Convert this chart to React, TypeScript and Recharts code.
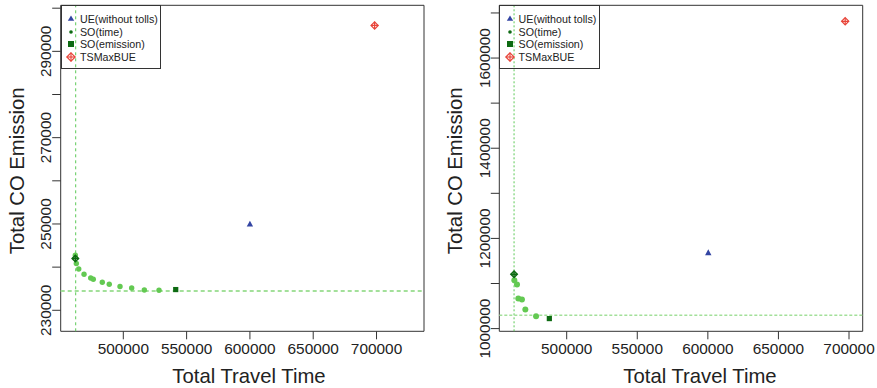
import { ReferenceArea, ReferenceLine, Scatter, ScatterChart, XAxis, YAxis } from "recharts";

const seriesNames = ["UE(without tolls)", "SO(time)", "SO(emission)", "TSMaxBUE"];
const travelTimeTicks = [500000, 550000, 600000, 650000, 700000];

// left panel
const leftCOTicks = [230000, 240000, 250000, 260000, 270000, 280000, 290000, 300000];
const leftCOLabels = [230000, 250000, 270000, 290000];
const leftParetoTime = [462100, 462900, 464800, 469000, 474250, 476300, 483400, 488900, 497400, 506600, 516600, 528200];
const leftParetoCO = [242760, 240840, 239580, 238350, 237490, 237190, 236500, 236030, 235500, 235170, 234710, 234640];
// UE, SO(time), SO(emission), TSMaxBUE
const leftPointTime = [600000, 462100, 541400, 698500];
const leftPointCO = [250000, 242000, 234800, 296000];
const leftRefTime = 462400;
const leftRefCO = 234480;

// right panel
const rightCOTicks = [1000000, 1100000, 1200000, 1300000, 1400000, 1500000, 1600000, 1700000];
const rightCOLabels = [1000000, 1200000, 1400000, 1600000];
const rightParetoTime = [462900, 464800, 465700, 468300, 470700, 478300];
const rightParetoCO = [1107200, 1097700, 1066600, 1064400, 1042200, 1027300];
const rightPointTime = [600300, 462700, 487700, 697300];
const rightPointCO = [1168700, 1120500, 1022200, 1681500];
const rightRefTime = 462700;
const rightRefCO = 1029500;

const FONT = '"Liberation Sans", Arial, Helvetica, sans-serif';
const TEXT = "#222";
const BOX = "#333";

const GREEN = "#63c952";
const DARK_GREEN = "#0d6a12";
const BLUE = "#3345a3";
const RED = "#e8453a";

const GreenDot = (r: number) => (props: any) => <circle cx={props.cx} cy={props.cy} r={r} fill={GREEN} />;

const Triangle = (props: any) => {
  const { cx, cy } = props;
  return <polygon points={`${cx},${cy - 3.2} ${cx - 3.2},${cy + 2.6} ${cx + 3.2},${cy + 2.6}`} fill={BLUE} />;
};

const Square = (props: any) => {
  const { cx, cy } = props;
  return <rect x={cx - 2.6} y={cy - 2.6} width={5.2} height={5.2} fill={DARK_GREEN} />;
};

const DiamondPlus = (color: string, r: number, w: number) => (props: any) => {
  const { cx, cy } = props;
  return (
    <g stroke={color} strokeWidth={w} fill="none">
      <polygon points={`${cx},${cy - r} ${cx + r},${cy} ${cx},${cy + r} ${cx - r},${cy}`} />
      <line x1={cx - r} y1={cy} x2={cx + r} y2={cy} />
      <line x1={cx} y1={cy - r} x2={cx} y2={cy + r} />
    </g>
  );
};

const XTick = (props: any) => {
  const { x, y, payload } = props;
  return (
    <text x={x} y={y + 13} textAnchor="middle" fontSize={15.4} fill={TEXT} fontFamily={FONT}>
      {payload.value}
    </text>
  );
};

const YTick = (labels: number[]) => (props: any) => {
  const { x, y, payload } = props;
  if (!labels.includes(payload.value)) return <g />;
  const bx = x + 1;
  return (
    <text x={bx} y={y} transform={`rotate(-90 ${bx} ${y})`} textAnchor="middle" fontSize={15.4} fill={TEXT} fontFamily={FONT}>
      {payload.value}
    </text>
  );
};

const Title = (p: any) => (
  <text
    x={p.tx}
    y={p.ty}
    transform={p.rot ? `rotate(-90 ${p.tx} ${p.ty})` : undefined}
    textAnchor="middle"
    fontSize={20.3}
    fill={TEXT}
    fontFamily={FONT}
  >
    {p.txt}
  </text>
);

const legendMarks = [
  <polygon points="5,1.5 1.8,6.8 8.2,6.8" fill={BLUE} />,
  <circle cx={5} cy={5} r={1.8} fill={DARK_GREEN} />,
  <rect x={2} y={2} width={6} height={6} fill={DARK_GREEN} />,
  <g stroke={RED} strokeWidth={1.2} fill="none">
    <polygon points="5,0.8 9.2,5 5,9.2 0.8,5" />
    <line x1={0.8} y1={5} x2={9.2} y2={5} />
    <line x1={5} y1={0.8} x2={5} y2={9.2} />
  </g>,
];

const rowCenters = [12.4, 25.7, 38, 50.7];

function LegendBox({ left }: { left: number }) {
  return (
    <div
      style={{
        position: "absolute",
        left,
        top: 5.3,
        width: 100.5,
        height: 63.5,
        border: `1px solid ${BOX}`,
        boxSizing: "border-box",
        fontFamily: FONT,
        fontSize: 10.7,
        color: TEXT,
        pointerEvents: "none",
      }}
    >
      {seriesNames.map((name, i) => (
        <div key={name} style={{ position: "absolute", left: 0, top: rowCenters[i] - 6, height: 12, width: 100 }}>
          <svg width={10} height={10} style={{ position: "absolute", left: 4.3, top: 1 }}>
            {legendMarks[i]}
          </svg>
          <span style={{ position: "absolute", left: 18.3, top: 0, lineHeight: "12px", whiteSpace: "nowrap" }}>{name}</span>
        </div>
      ))}
    </div>
  );
}

type PanelProps = {
  width: number;
  yAxisWidth: number;
  right: number;
  xDomain: [number, number];
  yDomain: [number, number];
  yTicks: number[];
  yLabels: number[];
  paretoTime: number[];
  paretoCO: number[];
  pointTime: number[];
  pointCO: number[];
  refTime: number;
  refCO: number;
  xTitleX: number;
  yTitleX: number;
  dotR: number;
  dotted: boolean;
};

function Panel(p: PanelProps) {
  const pareto = p.paretoTime.map((t, i) => ({ x: t, y: p.paretoCO[i] }));
  const pt = (i: number) => [{ x: p.pointTime[i], y: p.pointCO[i] }];
  return (
    <ScatterChart width={p.width} height={388} margin={{ top: 5.3, right: p.right, bottom: 0, left: 0 }}>
      <XAxis
        type="number"
        dataKey="x"
        domain={p.xDomain}
        allowDataOverflow
        ticks={travelTimeTicks}
        interval={0}
        tickSize={8}
        axisLine={false}
        stroke={BOX}
        tick={(t: any) => <XTick {...t} />}
        height={56.7}
        label={<Title tx={p.xTitleX} ty={383.3} txt="Total Travel Time" />}
      />
      <YAxis
        type="number"
        dataKey="y"
        domain={p.yDomain}
        allowDataOverflow
        ticks={p.yTicks}
        interval={0}
        tickSize={8.5}
        axisLine={false}
        stroke={BOX}
        width={p.yAxisWidth}
        tick={YTick(p.yLabels)}
        label={<Title tx={p.yTitleX} ty={170.8} rot txt="Total CO Emission" />}
      />
      <ReferenceArea
        x1={p.xDomain[0]}
        x2={p.xDomain[1]}
        y1={p.yDomain[0]}
        y2={p.yDomain[1]}
        fill="none"
        fillOpacity={0}
        stroke={BOX}
        strokeWidth={1}
        ifOverflow="visible"
      />
      <ReferenceLine
        x={p.refTime}
        stroke="#5cc957"
        strokeWidth={1}
        strokeDasharray={p.dotted ? "2 2" : "3 3"}
        ifOverflow="visible"
      />
      <ReferenceLine
        y={p.refCO}
        stroke="#a3e09a"
        strokeWidth={p.dotted ? 1.5 : 2}
        strokeDasharray={p.dotted ? "3 2" : "4 3"}
        ifOverflow="visible"
      />
      <Scatter name="pareto" data={pareto} shape={GreenDot(p.dotR)} isAnimationActive={false} />
      <Scatter name={seriesNames[0]} data={pt(0)} shape={Triangle} isAnimationActive={false} />
      <Scatter name={seriesNames[1]} data={pt(1)} shape={DiamondPlus(DARK_GREEN, 3.2, 1.5)} isAnimationActive={false} />
      <Scatter name={seriesNames[2]} data={pt(2)} shape={Square} isAnimationActive={false} />
      <Scatter name={seriesNames[3]} data={pt(3)} shape={DiamondPlus(RED, 3.6, 1.2)} isAnimationActive={false} />
    </ScatterChart>
  );
}

export default function App() {
  return (
    <div style={{ position: "absolute", left: 0, top: 0, width: 877, height: 388, background: "#fff", fontFamily: FONT }}>
      <div style={{ position: "absolute", left: 0, top: 0, width: 440, height: 388 }}>
        <Panel
          width={440}
          yAxisWidth={60.7}
          right={16}
          xDomain={[450550, 737500]}
          yDomain={[225130, 300670]}
          yTicks={leftCOTicks}
          yLabels={leftCOLabels}
          paretoTime={leftParetoTime}
          paretoCO={leftParetoCO}
          pointTime={leftPointTime}
          pointCO={leftPointCO}
          refTime={leftRefTime}
          refCO={leftRefCO}
          xTitleX={249}
          yTitleX={24}
          dotR={2.7}
          dotted={false}
        />
        <LegendBox left={60.7} />
      </div>
      <div style={{ position: "absolute", left: 440, top: 0, width: 437, height: 388 }}>
        <Panel
          width={437}
          yAxisWidth={59.3}
          right={14.3}
          xDomain={[452250, 709700]}
          yDomain={[994000, 1716980]}
          yTicks={rightCOTicks}
          yLabels={rightCOLabels}
          paretoTime={rightParetoTime}
          paretoCO={rightParetoCO}
          pointTime={rightPointTime}
          pointCO={rightPointCO}
          refTime={rightRefTime}
          refCO={rightRefCO}
          xTitleX={260}
          yTitleX={21.7}
          dotR={3}
          dotted={true}
        />
        <LegendBox left={59.3} />
      </div>
    </div>
  );
}
